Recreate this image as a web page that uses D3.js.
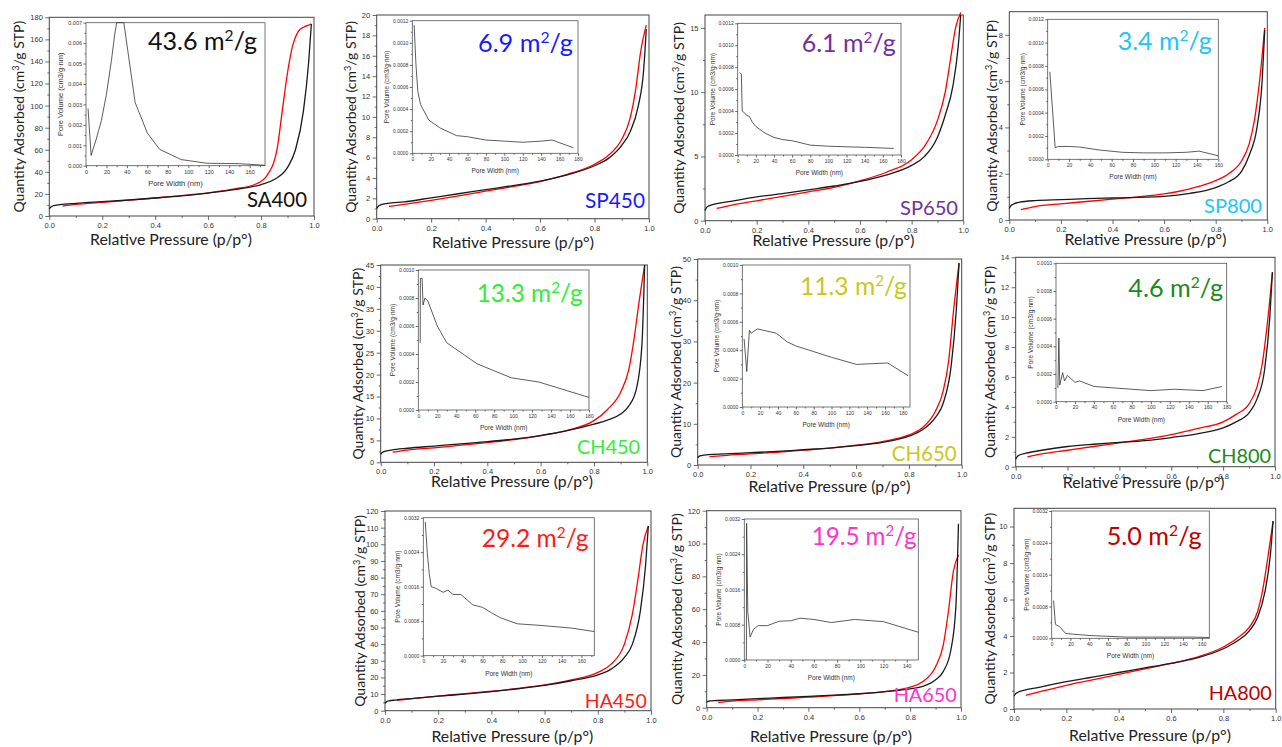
<!DOCTYPE html>
<html>
<head>
<meta charset="utf-8">
<script src="https://cdn.jsdelivr.net/npm/d3@7"></script>
<style>
	body { margin: 0; background: #fff; }
	svg { display: block; }
	.tick text { font-family: "Liberation Sans", Arial, sans-serif; fill: #333; }
	.tick line { stroke: #444; stroke-width: 0.8; }
</style>
</head>
<body>
<svg id="chart" width="1282" height="747"></svg>
<script>
// relative pressure grids (p/p°)
var desorbPressure = [0, 0.005, 0.015, 0.04, 0.1, 0.2, 0.3, 0.4, 0.5, 0.6, 0.7, 0.8, 0.85, 0.9, 0.93, 0.96, 0.98, 0.99];
var adsorbPressure = [0.045, 0.1, 0.2, 0.3, 0.4, 0.5, 0.6, 0.7, 0.8, 0.85, 0.9, 0.93, 0.95, 0.97, 0.99];
var sa400AdsorbPressure = [0.05, 0.1, 0.2, 0.3, 0.4, 0.5, 0.6, 0.7, 0.78, 0.82, 0.86, 0.88, 0.9, 0.92, 0.94, 0.96, 0.98, 0.99];

var samples = ["SA400", "SP450", "SP650", "SP800", "CH450", "CH650", "CH800", "HA450", "HA650", "HA800"];
var surfaceAreas = ["43.6", "6.9", "6.1", "3.4", "13.3", "11.3", "4.6", "29.2", "19.5", "5.0"];

// quantity adsorbed (cm3/g STP), black branch on desorbPressure
var sa400Black = [6.5, 8, 9.3, 10.3, 11.5, 13, 14.5, 16.3, 18.3, 20.8, 23.8, 28.5, 33, 44, 60, 95, 140, 174];
var sp450Black = [1.0, 1.2, 1.35, 1.5, 1.65, 2.05, 2.45, 2.85, 3.25, 3.7, 4.3, 5.2, 5.9, 7.2, 8.5, 11, 14.5, 18.6];
var sp650Black = [0.8, 1.0, 1.15, 1.3, 1.5, 1.85, 2.1, 2.4, 2.7, 3.05, 3.55, 4.3, 5.0, 6.5, 8.2, 10.5, 13.5, 16];
var sp800Black = [0.5, 0.6, 0.68, 0.77, 0.84, 0.88, 0.92, 0.95, 0.98, 1.02, 1.15, 1.4, 1.65, 2.1, 2.8, 4, 6, 8.2];
var ch450Black = [1.8, 2.2, 2.5, 2.8, 3.2, 3.7, 4.2, 4.7, 5.3, 6.1, 7.2, 8.7, 9.6, 11, 12.8, 17, 27, 45];
var ch650Black = [1.8, 2.1, 2.3, 2.5, 2.7, 3.0, 3.3, 3.7, 4.1, 4.7, 5.5, 7.0, 8.5, 11.5, 15, 24, 38, 49];
var ch800Black = [0.5, 0.65, 0.78, 0.9, 1.1, 1.35, 1.5, 1.62, 1.75, 1.95, 2.2, 2.6, 3.0, 3.6, 4.5, 6.5, 10, 13];
var ha450Black = [4.5, 5.3, 5.9, 6.4, 7.3, 8.7, 10, 11.5, 13.2, 15.2, 18, 21.5, 25, 32, 40, 60, 88, 111];
var ha650Black = [3.5, 3.9, 4.2, 4.4, 4.8, 5.5, 6.2, 6.9, 7.6, 8.5, 9.8, 11.5, 13, 17, 22, 35, 62, 112];
var ha800Black = [0.7, 0.82, 0.92, 1.03, 1.2, 1.5, 1.75, 2.0, 2.25, 2.5, 2.8, 3.3, 3.7, 4.3, 5.0, 6.5, 8.5, 10.3];

// red branch on adsorbPressure (SA400 on its own grid)
var sa400Red = [9, 10.5, 12.3, 14.3, 16.3, 18.5, 21, 24.5, 29, 36, 60, 95, 130, 155, 167, 171, 173, 174];
var sp450Red = [1.2, 1.4, 1.8, 2.25, 2.7, 3.15, 3.65, 4.35, 5.35, 6.2, 7.8, 9.8, 12.5, 16.5, 19];
var sp650Red = [0.95, 1.2, 1.55, 1.9, 2.25, 2.6, 3.1, 3.75, 4.75, 5.8, 7.8, 10, 12.5, 15, 16.2];
var sp800Red = [0.45, 0.58, 0.7, 0.8, 0.9, 1.0, 1.13, 1.35, 1.7, 2.0, 2.55, 3.3, 4.3, 6, 8.3];
var ch450Red = [2.3, 2.8, 3.3, 3.9, 4.5, 5.2, 6.1, 7.3, 9.5, 12, 16, 21, 28, 37, 45];
var ch650Red = [2.0, 2.3, 2.7, 3.1, 3.6, 4.1, 4.8, 5.7, 7.3, 9, 13, 18, 25, 38, 49];
var ch800Red = [0.65, 0.85, 1.1, 1.35, 1.6, 1.85, 2.15, 2.55, 3.0, 3.5, 4.2, 5.3, 6.8, 9.5, 13];
var ha450Red = [6.2, 7.2, 8.8, 10.2, 11.7, 13.4, 15.5, 18.5, 23, 28, 40, 58, 78, 100, 111];
var ha650Red = [3.2, 4.0, 4.8, 5.6, 6.4, 7.3, 8.4, 9.8, 12.5, 16, 25, 38, 58, 83, 93];
var ha800Red = [0.75, 0.95, 1.3, 1.6, 1.9, 2.2, 2.5, 2.85, 3.4, 3.85, 4.5, 5.3, 6.5, 8.3, 10.3];

// pore size distribution, [pore width nm, pore volume cm3/g·nm]
var sa400Pores = [[2, 0.0028], [5, 0.0005], [10, 0.0013], [15, 0.0022], [20, 0.0035], [25, 0.0052], [28, 0.0064], [30, 0.007], [37, 0.007], [48, 0.0031], [60, 0.0016], [72, 0.0008], [93, 0.0003], [118, 0.00012], [150, 0.0001], [175, 0.00002]];
var sp450Pores = [[2, 0.00116], [4, 0.0008], [6, 0.00056], [9, 0.00044], [18, 0.0003], [30, 0.00023], [48, 0.00016], [60, 0.00015], [80, 0.00012], [100, 0.00011], [120, 0.0001], [140, 0.00011], [152, 0.00012], [175, 0.00005]];
var sp650Pores = [[2, 0.00075], [4, 0.00074], [5, 0.0004], [8, 0.00038], [10, 0.00036], [13, 0.00035], [16, 0.0003], [20, 0.00026], [30, 0.0002], [40, 0.00016], [50, 0.00014], [60, 0.00013], [80, 0.00009], [100, 0.00008], [140, 0.00007], [172, 0.00006]];
var sp800Pores = [[2, 0.00075], [7, 0.0001], [10, 0.00011], [20, 0.00011], [30, 0.000105], [48, 0.00008], [70, 0.00006], [90, 0.000055], [110, 0.000055], [130, 0.00006], [142, 0.00007], [160, 0.00003]];
var ch450Pores = [[2, 0.00048], [2.2, 0.00094], [4, 0.00094], [5, 0.00075], [7, 0.0008], [10, 0.00078], [20, 0.0006], [30, 0.00048], [62, 0.00033], [80, 0.00028], [98, 0.00023], [127, 0.0002], [180, 0.00009]];
var ch650Pores = [[2, 0.00048], [5, 0.00025], [8, 0.00054], [10, 0.00052], [17, 0.00055], [38, 0.00052], [50, 0.00046], [60, 0.00043], [80, 0.00039], [100, 0.00035], [128, 0.0003], [163, 0.00031], [186, 0.00022]];
var ch800Pores = [[2, 0.0001], [3, 0.00046], [4, 0.00012], [7, 0.00021], [9, 0.00015], [12, 0.00019], [20, 0.00014], [25, 0.00015], [40, 0.00011], [60, 0.0001], [100, 0.00008], [125, 0.00009], [155, 0.00008], [175, 0.00011]];
var ha450Pores = [[2, 0.0031], [4, 0.0024], [6, 0.0019], [8, 0.0016], [12, 0.00157], [20, 0.00147], [25, 0.00152], [30, 0.00142], [38, 0.00142], [50, 0.00118], [60, 0.00112], [70, 0.00098], [78, 0.00088], [95, 0.00074], [120, 0.0007], [150, 0.00064], [173, 0.00056]];
var ha650Pores = [[1.8, 0], [2, 0.0031], [3, 0.0011], [5, 0.00052], [8, 0.0007], [12, 0.00078], [20, 0.00078], [30, 0.00088], [40, 0.00089], [48, 0.00095], [60, 0.00092], [75, 0.00085], [95, 0.00092], [120, 0.00087], [150, 0.00063]];
var ha800Pores = [[2, 0.00095], [4, 0.00035], [8, 0.0003], [15, 0.00012], [20, 0.00011], [40, 0.00007], [60, 0.00005], [80, 0.00003], [120, 0.00003], [150, 0.00003], [168, 0.00002]];

// axis ranges and tick steps
var yMax = [180, 20, 16, 9, 45, 50, 14, 120, 120, 11];
var yStep = [20, 2, 5, 2, 5, 10, 2, 10, 20, 2];
var poreXMax = [175, 180, 180, 160, 180, 188, 180, 173, 150, 168];
var poreXTickMax = [160, 180, 180, 160, 180, 180, 180, 160, 140, 160];
var poreYMax = [0.007, 0.0012, 0.0012, 0.0012, 0.001, 0.001, 0.001, 0.0032, 0.0032, 0.0032];
var poreYStep = [0.001, 0.0002, 0.0002, 0.0002, 0.0002, 0.0002, 0.0002, 0.0008, 0.0008, 0.0008];

var blackSeries = [sa400Black, sp450Black, sp650Black, sp800Black, ch450Black, ch650Black, ch800Black, ha450Black, ha650Black, ha800Black];
var redSeries = [sa400Red, sp450Red, sp650Red, sp800Red, ch450Red, ch650Red, ch800Red, ha450Red, ha650Red, ha800Red];
var poreSeries = [sa400Pores, sp450Pores, sp650Pores, sp800Pores, ch450Pores, ch650Pores, ch800Pores, ha450Pores, ha650Pores, ha800Pores];

// layout: plot [left, right, top, bottom], inset [left, right, top, bottom],
// area [x, baseline, width], sample [right, baseline, width], xTitle [cx, baseline], yTitle baseline x
var panels = [
	{plot: [49.3, 314, 17.3, 216], inset: [86, 265, 22.7, 165.7], area: [148, 50, 109], sample: [307, 207, 60], xTitle: [171, 245], yTitle: 24, color: "#111111", insetFont: [5.5, 7.5]},
	{plot: [376.7, 649, 15, 218.7], inset: [412.3, 578, 20.7, 153.3], area: [478, 52, 95], sample: [645, 208, 60], xTitle: [513, 248], yTitle: 356, color: "#1a1aff", insetFont: [5, 6.5]},
	{plot: [705, 963.3, 15, 220.7], inset: [737.7, 901, 23.3, 155], area: [801.7, 52, 94], sample: [958, 215, 58], xTitle: [833.5, 245.5], yTitle: 684, color: "#7030a0", insetFont: [5, 6.5]},
	{plot: [1009.3, 1267.3, 11.7, 220], inset: [1047.7, 1218.3, 19.3, 159.3], area: [1117.7, 50, 94], sample: [1262, 213, 58], xTitle: [1145.5, 245], yTitle: 997, color: "#22c4f5", insetFont: [5, 6.5]},
	{plot: [380.7, 647.3, 265, 462.3], inset: [418.3, 589, 270, 410], area: [476.7, 301.7, 106], sample: [640, 454, 63], xTitle: [512, 487], yTitle: 363, color: "#33ee33", insetFont: [5, 6.5]},
	{plot: [697.7, 961.7, 259, 465], inset: [742.3, 910, 265, 407], area: [800, 295, 107], sample: [956.7, 460.7, 65], xTitle: [829.5, 491.5], yTitle: 681, color: "#c8c81e", insetFont: [5, 6.5]},
	{plot: [1015.7, 1275, 257.3, 466.7], inset: [1056, 1226.7, 263.3, 401.7], area: [1128.3, 296.7, 95], sample: [1271, 463, 63], xTitle: [1143.7, 488], yTitle: 995, color: "#1a8a1a", insetFont: [5, 6.5]},
	{plot: [385, 651, 511, 710.7], inset: [423.3, 594.3, 517.7, 655.7], area: [481.7, 546.7, 107], sample: [646.7, 708.3, 62], xTitle: [512.3, 742], yTitle: 365, color: "#ff1a1a", insetFont: [5, 6.5]},
	{plot: [706.7, 961, 510.7, 707.7], inset: [744.3, 918.3, 519, 660], area: [811.7, 545, 105], sample: [956.7, 702.3, 63], xTitle: [831, 741.5], yTitle: 682, color: "#ff33cc", insetFont: [5, 6.5]},
	{plot: [1014, 1275.7, 508.3, 709], inset: [1051.7, 1209.3, 511, 638.3], area: [1106.7, 545, 95], sample: [1271.7, 700, 63], xTitle: [1150, 741], yTitle: 995, color: "#c00000", insetFont: [5, 6.5]}
];

var mainFont = "Lato, 'Open Sans', sans-serif";
var svg = d3.select("#chart");

// scale font-size so the text spans the given width
function fitWidth(text, width){
	var len = text.node().getComputedTextLength();
	var fs = parseFloat(text.attr("font-size"));
	text.attr("font-size", fs * width / len);
}

function cleanAxis(g, fontSize){
	g.select(".domain").remove();
	g.selectAll(".tick text").attr("font-size", fontSize);
}

function ticksFor(max, step){
	return d3.range(0, max + step * 1e-6, step);
}
function minorFor(max, step){
	return d3.range(step / 2, max, step);
}

function drawPanel(i){
	var L = panels[i];
	var g = svg.append("g").attr("class", "panel-" + samples[i]);

	var x = d3.scaleLinear().domain([0, 1]).range([L.plot[0], L.plot[1]]);
	var y = d3.scaleLinear().domain([0, yMax[i]]).range([L.plot[3], L.plot[2]]);

	// main axes, ticks outward
	g.append("g").attr("transform", "translate(0," + L.plot[3] + ")")
		.call(d3.axisBottom(x).tickValues(minorFor(1, 0.2)).tickFormat("").tickSize(2).tickSizeOuter(0))
		.call(cleanAxis, 7.5);
	g.append("g").attr("transform", "translate(0," + L.plot[3] + ")")
		.call(d3.axisBottom(x).tickValues(ticksFor(1, 0.2)).tickFormat(d3.format(".1f")).tickSize(4).tickSizeOuter(0).tickPadding(2.5))
		.call(cleanAxis, 7.5);
	g.append("g").attr("transform", "translate(" + L.plot[0] + ",0)")
		.call(d3.axisLeft(y).tickValues(minorFor(yMax[i], yStep[i])).tickFormat("").tickSize(2).tickSizeOuter(0))
		.call(cleanAxis, 7.5);
	g.append("g").attr("transform", "translate(" + L.plot[0] + ",0)")
		.call(d3.axisLeft(y).tickValues(ticksFor(yMax[i], yStep[i])).tickFormat(d3.format("d")).tickSize(4).tickSizeOuter(0).tickPadding(2.5))
		.call(cleanAxis, 7.5);

	g.append("rect")
		.attr("x", L.plot[0]).attr("y", L.plot[2])
		.attr("width", L.plot[1] - L.plot[0]).attr("height", L.plot[3] - L.plot[2])
		.attr("fill", "none").attr("stroke", "#444").attr("stroke-width", 1);

	// isotherm branches
	var line = d3.line()
		.x(function(d){ return x(d[0]); })
		.y(function(d){ return y(d[1]); })
		.curve(d3.curveMonotoneX);
	var blackPts = desorbPressure.map(function(p, k){ return [p, blackSeries[i][k]]; });
	var redP = i === 0 ? sa400AdsorbPressure : adsorbPressure;
	var redPts = redP.map(function(p, k){ return [p, redSeries[i][k]]; });
	g.append("path").attr("d", line(redPts))
		.attr("fill", "none").attr("stroke", "#ff0000").attr("stroke-width", 1.3);
	g.append("path").attr("d", line(blackPts))
		.attr("fill", "none").attr("stroke", "#1a1a1a").attr("stroke-width", 1.3);

	// axis titles
	g.append("text")
		.attr("x", L.xTitle[0]).attr("y", L.xTitle[1])
		.attr("text-anchor", "middle")
		.attr("font-family", mainFont).attr("font-size", 16).attr("fill", "#222")
		.text("Relative Pressure (p/p°)")
		.call(fitWidth, 162);
	var yt = g.append("text")
		.attr("transform", "translate(" + L.yTitle + "," + (L.plot[2] + L.plot[3]) / 2 + ") rotate(-90)")
		.attr("text-anchor", "middle")
		.attr("font-family", mainFont).attr("font-size", 16).attr("fill", "#222");
	yt.append("tspan").text("Quantity Adsorbed (cm");
	yt.append("tspan").attr("baseline-shift", "super").style("font-size", "65%").text("3");
	yt.append("tspan").text("/g STP)");
	fitWidth(yt, 192);

	// inset: pore size distribution
	var I = L.inset;
	var px = d3.scaleLinear().domain([0, poreXMax[i]]).range([I[0], I[1]]);
	var py = d3.scaleLinear().domain([0, poreYMax[i]]).range([I[3], I[2]]);
	var tf = L.insetFont[0];
	g.append("rect")
		.attr("x", I[0]).attr("y", I[2]).attr("width", I[1] - I[0]).attr("height", I[3] - I[2])
		.attr("fill", "#fff").attr("stroke", "#555").attr("stroke-width", 0.8);
	g.append("g").attr("transform", "translate(0," + I[3] + ")")
		.call(d3.axisBottom(px).tickValues(minorFor(poreXTickMax[i], 20).concat(poreXMax[i] > poreXTickMax[i] + 10 ? [poreXTickMax[i] + 10] : [])).tickFormat("").tickSize(1.5).tickSizeOuter(0))
		.call(cleanAxis, tf);
	g.append("g").attr("transform", "translate(0," + I[3] + ")")
		.call(d3.axisBottom(px).tickValues(ticksFor(poreXTickMax[i], 20)).tickFormat(d3.format("d")).tickSize(2.5).tickSizeOuter(0).tickPadding(1.5))
		.call(cleanAxis, tf);
	g.append("g").attr("transform", "translate(" + I[0] + ",0)")
		.call(d3.axisLeft(py).tickValues(minorFor(poreYMax[i], poreYStep[i])).tickFormat("").tickSize(1.5).tickSizeOuter(0))
		.call(cleanAxis, tf);
	g.append("g").attr("transform", "translate(" + I[0] + ",0)")
		.call(d3.axisLeft(py).tickValues(ticksFor(poreYMax[i], poreYStep[i])).tickFormat(d3.format(i === 0 ? ".3f" : ".4f")).tickSize(2.5).tickSizeOuter(0).tickPadding(1.5))
		.call(cleanAxis, tf);
	g.selectAll(".tick line").attr("stroke", "#555");

	var poreLine = d3.line()
		.x(function(d){ return px(d[0]); })
		.y(function(d){ return py(d[1]); });
	g.append("path").attr("d", poreLine(poreSeries[i]))
		.attr("fill", "none").attr("stroke", "#333").attr("stroke-width", 0.8);

	g.append("text")
		.attr("x", (I[0] + I[1]) / 2).attr("y", I[3] + 20)
		.attr("text-anchor", "middle")
		.attr("font-family", "'Liberation Sans', Arial, sans-serif").attr("font-size", L.insetFont[1]).attr("fill", "#333")
		.text("Pore Width (nm)");
	g.append("text")
		.attr("transform", "translate(" + (I[0] - 23) + "," + (I[2] + I[3]) / 2 + ") rotate(-90)")
		.attr("text-anchor", "middle")
		.attr("font-family", "'Liberation Sans', Arial, sans-serif").attr("font-size", L.insetFont[1]).attr("fill", "#333")
		.text("Pore Volume (cm3/g·nm)");

	// surface area and sample name
	var at = g.append("text")
		.attr("x", L.area[0]).attr("y", L.area[1])
		.attr("font-family", mainFont).attr("font-size", 24).attr("fill", L.color);
	at.append("tspan").text(surfaceAreas[i] + " m");
	at.append("tspan").attr("baseline-shift", "super").style("font-size", "62%").text("2");
	at.append("tspan").text("/g");
	fitWidth(at, L.area[2]);

	g.append("text")
		.attr("x", L.sample[0]).attr("y", L.sample[1])
		.attr("text-anchor", "end")
		.attr("font-family", mainFont).attr("font-size", 20).attr("fill", L.color)
		.text(samples[i])
		.call(fitWidth, L.sample[2]);
}

samples.forEach(function(name, i){
	drawPanel(i);
});
</script>
</body>
</html>
